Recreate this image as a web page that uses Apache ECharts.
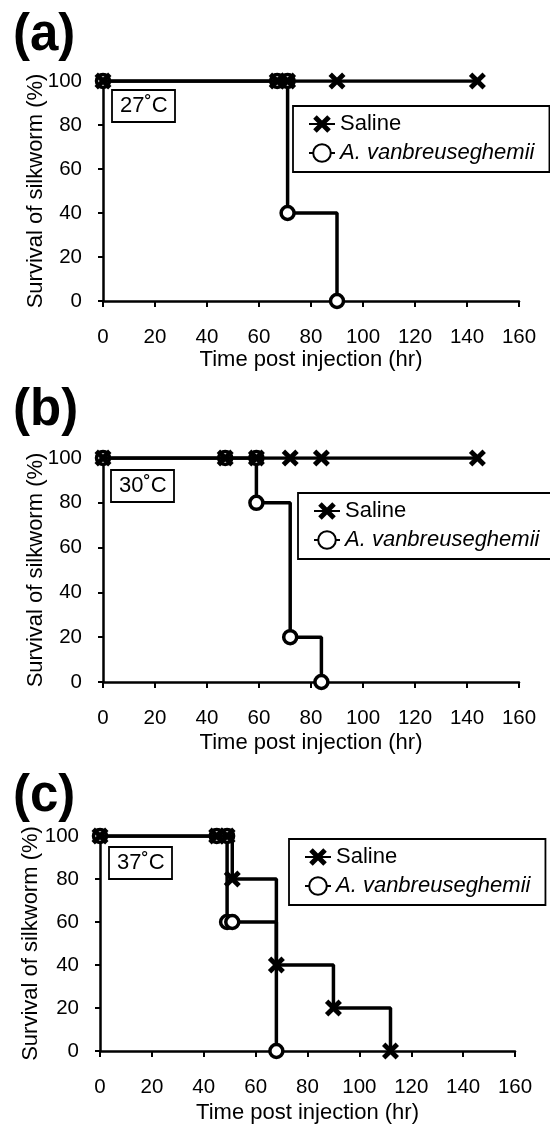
<!DOCTYPE html>
<html>
<head>
<meta charset="utf-8">
<script src="https://cdn.jsdelivr.net/npm/echarts@6/dist/echarts.min.js"></script>
<style>
html, body { margin: 0; padding: 0; background: #fff; }
#chart { width: 550px; height: 1126px; }
</style>
</head>
<body>
<div id="chart"></div>
<script>
// survival data (time in hr, % alive)
var seriesNames = ['Saline', 'A. vanbreuseghemii'];
var panelLabels = ['(a)', '(b)', '(c)'];
var tempLabels = ['27˚C', '30˚C', '37˚C'];

var tSalineA = [0, 67, 71, 90, 144];
var sSalineA = [100, 100, 100, 100, 100];
var tAvA = [0, 67, 71, 71, 90];
var sAvA = [100, 100, 100, 40, 0];

var tSalineB = [0, 47, 59, 72, 84, 144];
var sSalineB = [100, 100, 100, 100, 100, 100];
var tAvB = [0, 47, 59, 59, 72, 84];
var sAvB = [100, 100, 100, 80, 20, 0];

var tSalineC = [0, 45, 49, 51, 68, 90, 112];
var sSalineC = [100, 100, 100, 80, 40, 20, 0];
var tAvC = [0, 45, 49, 49, 51, 68];
var sAvC = [100, 100, 100, 60, 60, 0];

var FONT = '"Liberation Sans", Arial, sans-serif';
var crossPath = 'path://M2,0L5,3L8,0L10,2L7,5L10,8L8,10L5,7L2,10L0,8L3,5L0,2Z';

var panels = [
  { saline: [tSalineA, sSalineA], av: [tAvA, sAvA] },
  { saline: [tSalineB, sSalineB], av: [tAvB, sAvB] },
  { saline: [tSalineC, sSalineC], av: [tAvC, sAvC] }
];

// layout of each panel
var grids = [
  { left: 103, top: 81, width: 416, height: 220 },
  { left: 103, top: 458, width: 416, height: 224 },
  { left: 100, top: 836, width: 415, height: 215 }
];
var labelPos = [{ left: 13, top: 10 }, { left: 13, top: 385 }, { left: 13, top: 771 }];
var tempPos = [{ left: 112, top: 90 }, { left: 111, top: 470 }, { left: 109, top: 847 }];
var legendPos = [{ left: 293, top: 106 }, { left: 298, top: 493 }, { left: 289, top: 839 }];
var xNameGap = [46, 50, 51];
var yNameGap = [56, 56, 58];

function pairs(t, s) {
  return t.map(function (v, i) { return [v, s[i]]; });
}

var axisLine = { lineStyle: { color: '#000', width: 2.5 } };
var axisTick = { inside: false, length: 6, lineStyle: { color: '#000', width: 2 } };

var option = {
  animation: false,
  backgroundColor: '#fff',
  title: [],
  legend: [],
  grid: grids,
  xAxis: [],
  yAxis: [],
  series: []
};

panels.forEach(function (p, i) {
  option.title.push({
    text: panelLabels[i], left: labelPos[i].left, top: labelPos[i].top, padding: 0,
    textStyle: { fontFamily: FONT, fontSize: 51, fontWeight: 'bold', color: '#000' }
  });
  option.title.push({
    text: tempLabels[i], left: tempPos[i].left, top: tempPos[i].top,
    borderColor: '#000', borderWidth: 1.8, padding: [5, 8, 5, 8],
    textStyle: { fontFamily: FONT, fontSize: 22, fontWeight: 'normal', color: '#000' }
  });
  option.legend.push({
    left: legendPos[i].left, top: legendPos[i].top, orient: 'vertical',
    data: seriesNames, selectedMode: false,
    borderColor: '#000', borderWidth: 1.8, padding: [7, 15, 8, 15],
    itemGap: 7, itemWidth: 26, itemHeight: 22,
    textStyle: {
      fontFamily: FONT, fontSize: 22, color: '#000', lineHeight: 22,
      rich: { i: { fontFamily: FONT, fontSize: 22, fontStyle: 'italic', color: '#000', lineHeight: 22 } }
    },
    formatter: function (name) {
      return name === 'Saline' ? name : '{i|' + name + '}';
    }
  });
  option.xAxis.push({
    gridIndex: i, type: 'value', min: 0, max: 160, interval: 20,
    name: 'Time post injection (hr)', nameLocation: 'middle', nameGap: xNameGap[i],
    nameTextStyle: { fontFamily: FONT, fontSize: 22, color: '#000' },
    axisLine: axisLine, axisTick: axisTick, splitLine: { show: false },
    axisLabel: { fontFamily: FONT, fontSize: 20.5, color: '#000', margin: 26 }
  });
  option.yAxis.push({
    gridIndex: i, type: 'value', min: 0, max: 100, interval: 20,
    name: 'Survival of silkworm (%)', nameLocation: 'middle', nameGap: yNameGap[i],
    nameMoveOverlap: false,
    nameTextStyle: { fontFamily: FONT, fontSize: 22, color: '#000' },
    axisLine: axisLine, axisTick: { inside: false, length: 5, lineStyle: { color: '#000', width: 2 } },
    splitLine: { show: false },
    axisLabel: { fontFamily: FONT, fontSize: 20.5, color: '#000', margin: 21 }
  });
  option.series.push({
    name: seriesNames[0], type: 'line', step: 'end', z: 3,
    xAxisIndex: i, yAxisIndex: i,
    data: pairs(p.saline[0], p.saline[1]),
    symbol: crossPath, symbolSize: 17, showAllSymbol: true,
    lineStyle: { color: '#000', width: 3.5 },
    itemStyle: { color: '#000' }
  });
  option.series.push({
    name: seriesNames[1], type: 'line', step: 'end', z: 2,
    xAxisIndex: i, yAxisIndex: i,
    data: pairs(p.av[0], p.av[1]),
    symbol: 'circle', symbolSize: 13, showAllSymbol: true,
    lineStyle: { color: '#000', width: 3.5 },
    itemStyle: { color: '#fff', borderColor: '#000', borderWidth: 3.5 }
  });
});

var myChart = echarts.init(document.getElementById('chart'));
myChart.setOption(option);
</script>
</body>
</html>
